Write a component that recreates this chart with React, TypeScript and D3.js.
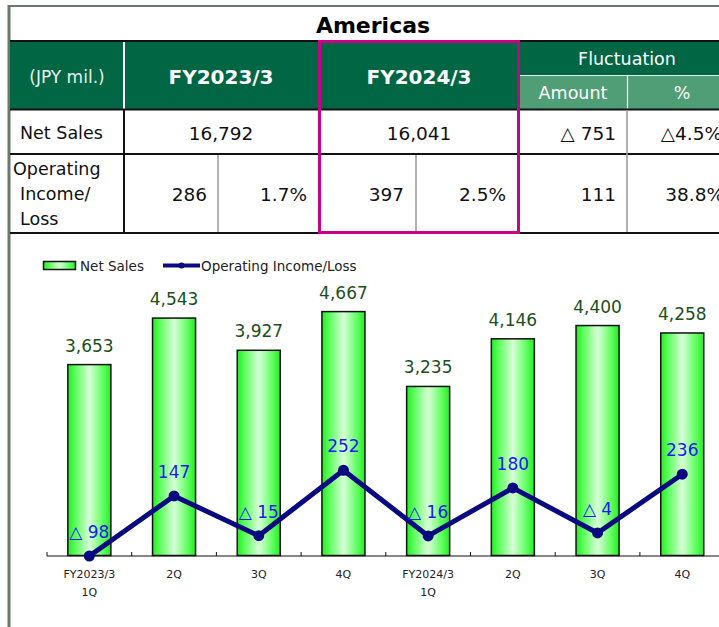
import React from "react";
import * as d3 from "d3";

const categories = ["FY2023/3|1Q", "2Q", "3Q", "4Q", "FY2024/3|1Q", "2Q ", "3Q ", "4Q "];
const netSales = [3653, 4543, 3927, 4667, 3235, 4146, 4400, 4258];
const opIncome = [-98, 147, -15, 252, -16, 180, -4, 236];

const tableTitle = "Americas";
const unitLabel = "(JPY mil.)";
const periodHeaders = ["FY2023/3", "FY2024/3"];
const fluctHeaders = ["Fluctuation", "Amount", "%"];
const netSalesRow = ["16,792", "16,041", "△ 751", "△4.5%"];
const opRow = ["286", "1.7%", "397", "2.5%", "111", "38.8%"];

const FONT = "'DejaVu Sans', Verdana, sans-serif";
const DARK = "#006644";
const LIGHT = "#4f9e76";

const fmt = (v: number) => (v < 0 ? "△ " + d3.format(",")(-v) : d3.format(",")(v));

export default function App() {
  const W = 719, H = 627;
  const x = d3.scaleBand<string>().domain(categories).range([47, 724.6]).padding(0);
  const barW = x.bandwidth() * 0.508;
  const yBar = d3.scaleLinear().domain([0, 5000]).range([555.5, 294.2]);
  const yLine = d3.scaleLinear().domain([-100, 300]).range([556.5, 458.5]);
  const cx = (c: string) => (x(c) as number) + x.bandwidth() / 2;
  const line = d3.line<number>().x((_, i) => cx(categories[i])).y((d) => yLine(d));

  return (
    <svg width={W} height={H} style={{ position: "absolute", left: 0, top: 0, background: "#fff" }} fontFamily={FONT}>
      <defs>
        <linearGradient id="barg" x1="0" x2="1" y1="0" y2="0">
          <stop offset="0" stopColor="#22ee22" />
          <stop offset="0.2" stopColor="#66ff66" />
          <stop offset="0.5" stopColor="#d8ffd8" />
          <stop offset="0.8" stopColor="#66ff66" />
          <stop offset="1" stopColor="#22ee22" />
        </linearGradient>
      </defs>
      {/* outer borders */}
      <line x1={9} x2={719} y1={6} y2={6} stroke="#6a786e" strokeWidth={2} />
      <line x1={9} x2={9} y1={5} y2={627} stroke="#6a786e" strokeWidth={3} />
      {/* title */}
      <text x={373} y={33} textAnchor="middle" fontWeight="bold" fontSize={22} fill="#000">{tableTitle}</text>
      {/* header */}
      <rect x={10} y={41} width={709} height={68} fill={DARK} />
      <rect x={520} y={76} width={199} height={33} fill={LIGHT} />
      <line x1={520} x2={719} y1={75.5} y2={75.5} stroke="#e8f4ee" strokeWidth={1} />
      <line x1={627.5} x2={627.5} y1={76} y2={109} stroke="#fff" strokeWidth={1.2} />
      <line x1={124} x2={124} y1={42} y2={109} stroke="#fff" strokeWidth={2} />
      <line x1={10} x2={719} y1={41} y2={41} stroke="#111" strokeWidth={2} />
      <line x1={10} x2={719} y1={109.5} y2={109.5} stroke="#111" strokeWidth={2} />
      <text x={67} y={83} textAnchor="middle" fontSize={17} fill="#e8f0ec">{unitLabel}</text>
      <text x={221} y={84} textAnchor="middle" fontSize={20} fontWeight="bold" fill="#fff">{periodHeaders[0]}</text>
      <text x={419} y={84} textAnchor="middle" fontSize={20} fontWeight="bold" fill="#fff">{periodHeaders[1]}</text>
      <text x={627} y={65} textAnchor="middle" fontSize={17.5} fill="#fff">{fluctHeaders[0]}</text>
      <text x={573} y={99} textAnchor="middle" fontSize={17.5} fill="#fff">{fluctHeaders[1]}</text>
      <text x={682} y={99} textAnchor="middle" fontSize={17.5} fill="#fff">{fluctHeaders[2]}</text>
      {/* body grid */}
      <line x1={10} x2={719} y1={154} y2={154} stroke="#111" strokeWidth={2} />
      <line x1={10} x2={719} y1={233} y2={233} stroke="#111" strokeWidth={2} />
      <line x1={124} x2={124} y1={110} y2={233} stroke="#111" strokeWidth={2} />
      <line x1={218} x2={218} y1={155} y2={232} stroke="#999" strokeWidth={1.5} />
      <line x1={416} x2={416} y1={155} y2={232} stroke="#999" strokeWidth={1.5} />
      <line x1={627} x2={627} y1={110} y2={232} stroke="#999" strokeWidth={1.5} />
      {/* body text */}
      <g fontSize={18.5} fill="#111">
        <text x={20} y={139} fontSize={17.5}>Net Sales</text>
        <text x={13} y={175} fontSize={17.5}>Operating</text>
        <text x={20} y={200} fontSize={17.5}>Income/</text>
        <text x={20} y={225} fontSize={17.5}>Loss</text>
        <text x={221} y={140} textAnchor="middle">{netSalesRow[0]}</text>
        <text x={419} y={140} textAnchor="middle">{netSalesRow[1]}</text>
        <text x={616} y={140} textAnchor="end">{netSalesRow[2]}</text>
        <text x={722} y={140} textAnchor="end">{netSalesRow[3]}</text>
        <text x={207} y={201} textAnchor="end">{opRow[0]}</text>
        <text x={307} y={201} textAnchor="end">{opRow[1]}</text>
        <text x={404} y={201} textAnchor="end">{opRow[2]}</text>
        <text x={506} y={201} textAnchor="end">{opRow[3]}</text>
        <text x={616} y={201} textAnchor="end">{opRow[4]}</text>
        <text x={724} y={201} textAnchor="end">{opRow[5]}</text>
      </g>
      {/* highlight box */}
      <rect x={319.5} y={41.5} width={199} height={191} fill="none" stroke="#cc0088" strokeWidth={3} />

      {/* legend */}
      <rect x={43.5} y={261.5} width={32} height={8} fill="url(#barg)" stroke="#111" strokeWidth={1.5} />
      <text x={80} y={271} fontSize={13.5} fill="#222">Net Sales</text>
      <line x1={163} x2={200} y1={265.5} y2={265.5} stroke="#0a0a80" strokeWidth={4} />
      <circle cx={181.5} cy={265.5} r={3} fill="#0a0a80" />
      <text x={201} y={271} fontSize={13.5} fill="#222">Operating Income/Loss</text>

      {/* bars */}
      {netSales.map((v, i) => {
        const c = categories[i];
        return (
          <g key={"b" + i}>
            <rect x={cx(c) - barW / 2} y={yBar(v)} width={barW} height={yBar(0) - yBar(v)} fill="url(#barg)" stroke="#111" strokeWidth={1.5} />
            <text x={cx(c)} y={yBar(v) - 13} textAnchor="middle" fontSize={17} fill="#1a4f1a">{fmt(v)}</text>
          </g>
        );
      })}
      {/* axis */}
      <line x1={47} x2={719} y1={556} y2={556} stroke="#111" strokeWidth={1.2} />
      {categories.map((c, i) => (
        <line key={"t" + i} x1={x(c) as number} x2={x(c) as number} y1={552} y2={556} stroke="#111" strokeWidth={1} />
      ))}
      {categories.map((c, i) => {
        const parts = c.trim().split("|");
        return (
          <text key={"xl" + i} x={cx(c)} y={578} textAnchor="middle" fontSize={11} fill="#222">
            {parts.map((p, j) => (
              <tspan key={j} x={cx(c)} dy={j === 0 ? 0 : 18}>{p}</tspan>
            ))}
          </text>
        );
      })}
      {/* line */}
      <path d={line(opIncome) || ""} fill="none" stroke="#0a0a80" strokeWidth={5} strokeLinejoin="round" />
      {opIncome.map((v, i) => (
        <g key={"p" + i}>
          <circle cx={cx(categories[i])} cy={yLine(v)} r={5.5} fill="#0a0a80" />
          <text x={cx(categories[i])} y={yLine(v) - 18} textAnchor="middle" fontSize={17} fill="#1a1aee">{fmt(v)}</text>
        </g>
      ))}
    </svg>
  );
}
